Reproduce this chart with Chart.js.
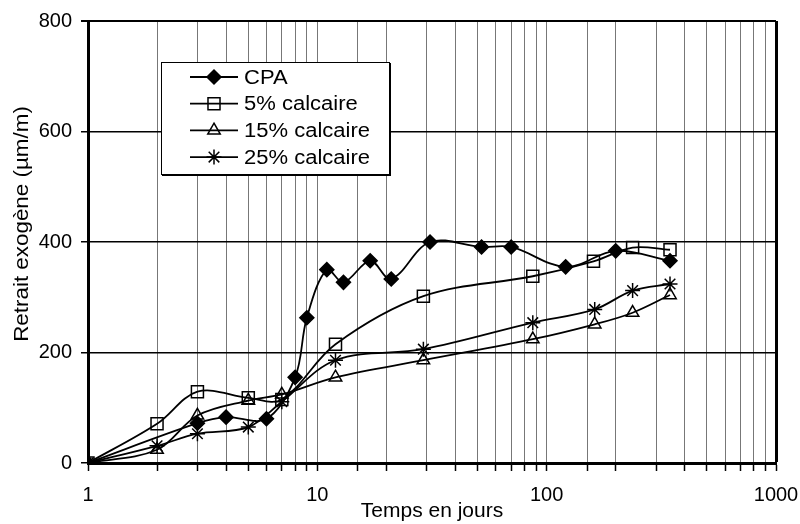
<!DOCTYPE html>
<html>
<head>
<meta charset="utf-8">
<script src="https://cdn.jsdelivr.net/npm/chart.js@4/dist/chart.umd.min.js"></script>
<style>
  html, body { margin: 0; padding: 0; background: #fff; }
  #wrap { width: 800px; height: 524px; position: relative; }
</style>
</head>
<body>
<div id="wrap"><canvas id="retraitChart"></canvas></div>
<script>
const FONT = "'Liberation Sans', Arial, sans-serif";

// Temps (jours) et retrait exogène (µm/m) pour chaque mélange
const cpaDays = [1, 3, 4, 6, 8, 9, 11, 13, 17, 21, 31, 52, 70, 121, 200, 345];
const cpaValues = [0, 72, 83, 80, 155, 263, 350, 327, 366, 333, 400, 391, 391, 355, 384, 366];

const calc5Days = [1, 2, 3, 5, 7, 12, 29, 87, 160, 237, 345];
const calc5Values = [0, 71, 129, 118, 115, 215, 302, 338, 365, 390, 386];

const calc15Days = [1, 2, 3, 5, 7, 12, 29, 87, 162, 237, 345];
const calc15Values = [0, 24, 86, 113, 124, 155, 186, 224, 251, 272, 304];

const calc25Days = [1, 2, 3, 5, 7, 12, 29, 87, 162, 237, 345];
const calc25Values = [0, 31, 53, 65, 111, 186, 206, 254, 278, 312, 324];

const seriesLabels = ["CPA", "5% calcaire", "15% calcaire", "25% calcaire"];
const yTicks = [0, 200, 400, 600, 800];
const xTickLabels = [1, 10, 100, 1000];
const yTitle = "Retrait exogène (µm/m)";
const xTitle = "Temps en jours";

function toPoints(days, values) {
  return days.map((d, i) => ({ x: d, y: values[i] }));
}

function makeSeries(label, days, values, style, radius, fill) {
  return {
    label: label,
    data: toPoints(days, values),
    borderColor: "#000",
    borderWidth: 1.8,
    tension: 0.35,
    pointStyle: style,
    pointRadius: radius,
    pointHoverRadius: radius,
    pointBorderWidth: 1.5,
    pointBorderColor: "#000",
    pointBackgroundColor: fill
  };
}

// Légende encadrée dans la zone du graphique
const boxLegend = {
  id: "boxLegend",
  afterDraw(chart) {
    const ctx = chart.ctx;
    const left = 161, top = 62, width = 229, height = 113;
    ctx.save();
    ctx.fillStyle = "#000";
    ctx.fillRect(left + 1, top + 1, width, height);
    ctx.fillStyle = "#fff";
    ctx.fillRect(left, top, width, height);
    ctx.strokeStyle = "#000";
    ctx.lineWidth = 1;
    ctx.strokeRect(left + 0.5, top + 0.5, width - 1, height - 1);

    ctx.font = "20px " + FONT;
    ctx.textBaseline = "middle";
    chart.data.datasets.forEach((ds, i) => {
      const y = 77 + i * 26.7;
      ctx.strokeStyle = "#000";
      ctx.lineWidth = 1.8;
      ctx.beginPath();
      ctx.moveTo(190, y);
      ctx.lineTo(238, y);
      ctx.stroke();
      ctx.lineWidth = ds.pointBorderWidth;
      ctx.fillStyle = ds.pointBackgroundColor;
      ctx.strokeStyle = ds.pointBorderColor;
      Chart.helpers.drawPoint(ctx, {
        pointStyle: ds.pointStyle,
        radius: ds.pointRadius,
        rotation: 0,
        borderWidth: ds.pointBorderWidth
      }, 214, y);
      // texte légèrement élargi
      ctx.save();
      ctx.translate(244, y + 1);
      ctx.scale(1.1, 1);
      ctx.fillStyle = "#000";
      ctx.fillText(ds.label, 0, 0);
      ctx.restore();
    });
    ctx.restore();
  }
};

// Titre vertical de l'axe des ordonnées
const yAxisTitle = {
  id: "yAxisTitle",
  afterDraw(chart) {
    const ctx = chart.ctx;
    ctx.save();
    ctx.translate(22, 224);
    ctx.rotate(-Math.PI / 2);
    ctx.scale(1.12, 1);
    ctx.font = "20px " + FONT;
    ctx.fillStyle = "#000";
    ctx.textAlign = "center";
    ctx.textBaseline = "middle";
    ctx.fillText(yTitle, 0, 0);
    ctx.restore();
  }
};

new Chart(document.getElementById("retraitChart"), {
  type: "line",
  data: {
    datasets: [
      makeSeries(seriesLabels[0], cpaDays, cpaValues, "rectRot", 7, "#000"),
      makeSeries(seriesLabels[1], calc5Days, calc5Values, "rect", 8.5, "rgba(0,0,0,0)"),
      makeSeries(seriesLabels[2], calc15Days, calc15Values, "triangle", 7.2, "rgba(0,0,0,0)"),
      makeSeries(seriesLabels[3], calc25Days, calc25Values, "star", 7.5, "rgba(0,0,0,0)")
    ]
  },
  options: {
    responsive: true,
    maintainAspectRatio: false,
    animation: false,
    layout: { padding: { left: 0, right: 24, top: 18, bottom: 0 } },
    plugins: {
      legend: { display: false },
      tooltip: { enabled: false }
    },
    scales: {
      x: {
        type: "logarithmic",
        min: 1,
        max: 1000,
        afterFit(scale) {
          scale.height = 61;
          scale.paddingLeft = 0;
          scale.paddingRight = 0;
        },
        border: { display: true, color: "#000", width: 3 },
        grid: {
          color: ctx => ctx.tick && ctx.tick.value === 1000 ? "#000" : "#777",
          lineWidth: ctx => ctx.tick && ctx.tick.value === 1000 ? 3 : 1,
          tickColor: "#000",
          tickWidth: 1.5,
          tickLength: 8
        },
        ticks: {
          autoSkip: false,
          maxRotation: 0,
          padding: 12,
          color: "#000",
          font: { family: FONT, size: 20 },
          callback: v => xTickLabels.includes(v) ? String(v) : ""
        },
        title: {
          display: true,
          text: xTitle,
          color: "#000",
          font: { family: FONT, size: 21 },
          padding: { top: 0, bottom: 0 }
        }
      },
      y: {
        min: 0,
        max: 800,
        afterFit(scale) { scale.width = 88; },
        afterBuildTicks(scale) { scale.ticks = yTicks.map(v => ({ value: v })); },
        border: { display: true, color: "#000", width: 3 },
        grid: {
          color: "#000",
          lineWidth: ctx => ctx.tick && ctx.tick.value === 800 ? 2 : 1.5,
          tickColor: "#000",
          tickLength: 7
        },
        ticks: {
          padding: 9,
          color: "#000",
          font: { family: FONT, size: 20 }
        }
      }
    }
  },
  plugins: [boxLegend, yAxisTitle]
});
</script>
</body>
</html>
